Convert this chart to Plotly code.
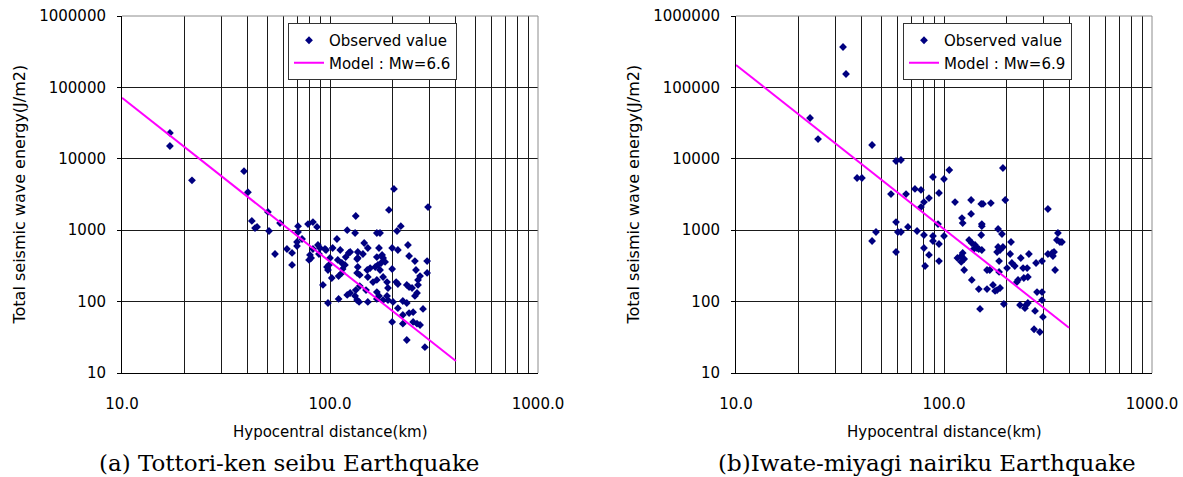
import plotly.graph_objects as go

# ---------------- data ----------------
# (a) Tottori-ken seibu Earthquake
left_dist = [17.0, 17.0, 21.7, 38.6, 40.3, 42.1, 43.6, 44.6, 50.3, 50.9, 57.5, 70.2, 70.2, 73.4, 69.4, 69.4,
             78.4, 82.8, 86.6, 54.4, 62.1, 65.7, 65.7, 82.8, 80.1, 79.3, 81.1, 87.5, 89.5, 88.5, 95.7, 92.5,
             97.8, 103, 108, 100, 96.7, 97.8, 98.9, 102, 112, 119, 123, 109, 114, 118, 115, 114, 110, 121,
             133, 132, 110, 121, 133, 135, 136, 136, 136,
             203, 192, 296, 219, 210, 168, 174, 146, 152, 172, 199, 212, 237, 125, 144, 135, 168, 178, 180,
             184, 176, 156, 165, 170, 174, 151, 152, 161, 168, 135, 139, 199, 240, 256, 293, 259, 293, 271,
             265, 265, 180, 188, 208, 212, 234, 240, 248, 262, 256, 139, 149, 168, 172, 190, 152, 138, 188,
             190, 168, 180, 201, 224, 234, 212, 224, 280, 240, 251, 251, 262, 271, 199, 224, 234, 286, 125,
             132, 94.6]
left_energy = [23000, 15100, 5000, 6700, 3400, 1350, 1070, 1110, 1800, 975, 1260, 1140, 944, 753, 683, 600,
               1220, 1300, 1110, 464, 545, 480, 326, 545, 450, 383, 408, 620, 563, 464, 528, 171,
               95.6, 563, 753, 408, 305, 277, 326, 214, 528, 421, 480, 383, 347, 326, 286, 252, 228, 1000,
               1580, 914, 109, 124, 145, 105, 495, 408, 305,
               3780, 1920, 2110, 1140, 975, 914, 914, 662, 563, 563, 563, 528, 620, 495, 464, 395, 421, 450, 408,
               359, 347, 295, 305, 326, 277, 277, 221, 188, 201, 252, 236, 286, 435, 370, 370, 277, 252, 228,
               201, 171, 221, 188, 188, 176, 171, 160, 155, 132, 120, 165, 145, 136, 120, 155, 99, 99, 120,
               105, 109, 105, 99, 102, 95.6, 81, 65, 79, 69, 71, 52, 49, 47, 52, 49, 29, 23, 132,
               120, 545]
left_model_dist = [10, 403]
left_model_energy = [71800, 14.7]

# (b) Iwate-miyagi nairiku Earthquake
right_dist = [32.7, 33.8, 22.7, 24.8, 45.1, 38.2, 40.3, 55.6, 58.8, 62.1, 58.8, 47.1, 45.1, 60.0, 62.1, 58.8,
              65.7, 72.5, 77.5, 84.7, 80.1, 77.5, 88.5, 94.6, 93.6, 67.1, 74.2, 80.1, 88.5, 88.5, 94.6, 94.6,
              80.1, 84.7, 81.1, 106, 100, 192, 197, 113, 135, 151, 154, 168, 135, 122, 123, 152, 152, 316,
              182, 190, 151, 100, 132, 136, 141, 144, 147, 152, 139, 182, 186, 192, 180, 210, 116, 121, 123,
              125, 121, 125, 136, 147, 149, 161, 166, 161, 172, 176, 180, 186, 184, 184, 194, 201, 208, 212,
              219, 234, 240, 251, 256, 227, 224, 242, 253, 277, 296, 232, 248, 253, 245, 274, 280, 296, 296,
              299, 271, 289, 316, 331, 338, 334, 342, 353, 349, 361, 369]
right_energy = [368000, 154000, 37300, 18900, 15600, 5380, 5380, 3210, 9310, 9620, 1300, 944, 706, 944, 944, 495,
                3210, 3780, 3660, 2820, 2480, 2110, 5560, 3320, 1220, 1110, 975, 857, 830, 706, 641, 370,
                563, 450, 315, 6970, 5210, 7430, 2650, 2480, 2650, 2330, 2330, 2400, 1690, 1480, 1260, 1220, 1140, 1980,
                1040, 885, 857, 830, 729, 662, 620, 563, 545, 528, 545, 582, 528, 582, 495, 683, 408, 435, 480,
                395, 359, 277, 201, 150, 79, 277, 277, 150, 171, 141, 145, 155, 370, 260, 92.5, 295, 464, 347,
                315, 408, 295, 295, 464, 201, 188, 214, 221, 347, 370, 89.6, 89.6, 95.6, 81, 74, 136, 136, 105,
                61, 41, 37.5, 464, 480, 495, 435, 277, 914, 729, 683, 683]
right_model_dist = [10, 399]
right_model_energy = [206000, 43]

x_tick_vals = [m * 10 ** k for k in (1, 2) for m in range(1, 10)] + [1000]
x_tick_text = ["10.0" if v == 10 else "100.0" if v == 100 else "1000.0" if v == 1000 else "" for v in x_tick_vals]
y_tick_vals = [10, 100, 1000, 10000, 100000, 1000000]
y_tick_text = ["10", "100", "1000", "10000", "100000", "1000000"]

# ---------------- figure ----------------
W, H = 1183, 477
SANS = "DejaVu Sans"
SERIF = "DejaVu Serif"
NAVY = "#000080"
MAGENTA = "#FF00FF"

def px_x(p):
    return p / W

def px_y(p):
    return 1 - p / H

fig = go.Figure()

fig.add_trace(go.Scatter(x=left_dist, y=left_energy, mode="markers", name="Observed value",
                         marker=dict(symbol="diamond", size=6, color=NAVY),
                         xaxis="x", yaxis="y", legend="legend"))
fig.add_trace(go.Scatter(x=left_model_dist, y=left_model_energy, mode="lines", name="Model : Mw=6.6",
                         line=dict(color=MAGENTA, width=2),
                         xaxis="x", yaxis="y", legend="legend"))
fig.add_trace(go.Scatter(x=right_dist, y=right_energy, mode="markers", name="Observed value",
                         marker=dict(symbol="diamond", size=6, color=NAVY),
                         xaxis="x2", yaxis="y2", legend="legend2"))
fig.add_trace(go.Scatter(x=right_model_dist, y=right_model_energy, mode="lines", name="Model : Mw=6.9",
                         line=dict(color=MAGENTA, width=2),
                         xaxis="x2", yaxis="y2", legend="legend2"))

xdom_left = [px_x(122), px_x(538)]
xdom_right = [px_x(736), px_x(1152)]
ydom = [px_y(373), px_y(16)]

def xaxis_cfg(dom, anchor):
    return dict(type="log", range=[1, 3], domain=dom, anchor=anchor, automargin=False,
                tickvals=x_tick_vals, ticktext=x_tick_text,
                showgrid=True, gridcolor="#1a1a1a", gridwidth=1,
                showline=True, linecolor="black", linewidth=1,
                ticks="", zeroline=False, ticklabelstandoff=17,
                tickfont=dict(family=SANS, size=15, color="black"))

def yaxis_cfg(anchor):
    return dict(type="log", range=[1, 6], domain=ydom, anchor=anchor, automargin=False,
                tickvals=y_tick_vals, ticktext=y_tick_text,
                showgrid=True, gridcolor="#1a1a1a", gridwidth=1,
                showline=True, linecolor="black", linewidth=1,
                ticks="outside", ticklen=4, tickcolor="black", ticklabelstandoff=8,
                zeroline=False,
                tickfont=dict(family=SANS, size=15, color="black"))

legend_common = dict(bgcolor="white", bordercolor="#333333", borderwidth=1,
                     font=dict(family=SANS, size=15, color="black"),
                     xanchor="left", yanchor="top", tracegroupgap=0)

fig.update_layout(
    template="none",
    width=W, height=H, autosize=False,
    margin=dict(l=0, r=0, t=0, b=0, pad=0),
    paper_bgcolor="white", plot_bgcolor="white",
    xaxis=xaxis_cfg(xdom_left, "y"),
    yaxis=yaxis_cfg("x"),
    xaxis2=xaxis_cfg(xdom_right, "y2"),
    yaxis2=yaxis_cfg("x2"),
    legend=dict(x=px_x(288), y=px_y(23), **legend_common),
    legend2=dict(x=px_x(903), y=px_y(23), **legend_common),
    showlegend=True,
)

# grey top/right frame of each plot area
for xr, yr in (("x domain", "y domain"), ("x2 domain", "y2 domain")):
    fig.add_shape(type="line", xref=xr, yref=yr, x0=0, x1=1, y0=1, y1=1,
                  line=dict(color="#8c8c8c", width=1), layer="above")
    fig.add_shape(type="line", xref=xr, yref=yr, x0=1, x1=1, y0=0, y1=1,
                  line=dict(color="#8c8c8c", width=1), layer="above")

ann = []
for cx in (330, 944):
    ann.append(dict(text="Hypocentral distance(km)", x=px_x(cx), y=px_y(432), xref="paper", yref="paper",
                    xanchor="center", yanchor="middle", showarrow=False,
                    font=dict(family=SANS, size=15, color="black")))
for cx in (19, 633):
    ann.append(dict(text="Total seismic wave energy(J/m2)", x=px_x(cx), y=px_y(194.5), xref="paper", yref="paper",
                    xanchor="center", yanchor="middle", showarrow=False, textangle=-90,
                    font=dict(family=SANS, size=16, color="black")))
ann.append(dict(text="(a) Tottori-ken seibu Earthquake", x=px_x(97), y=px_y(463), xref="paper", yref="paper",
                xanchor="left", yanchor="middle", showarrow=False,
                font=dict(family=SERIF, size=23, color="black")))
ann.append(dict(text="(b)Iwate-miyagi nairiku Earthquake", x=px_x(716), y=px_y(463), xref="paper", yref="paper",
                xanchor="left", yanchor="middle", showarrow=False,
                font=dict(family=SERIF, size=23, color="black")))
fig.update_layout(annotations=ann)

fig.write_html("out.html")
